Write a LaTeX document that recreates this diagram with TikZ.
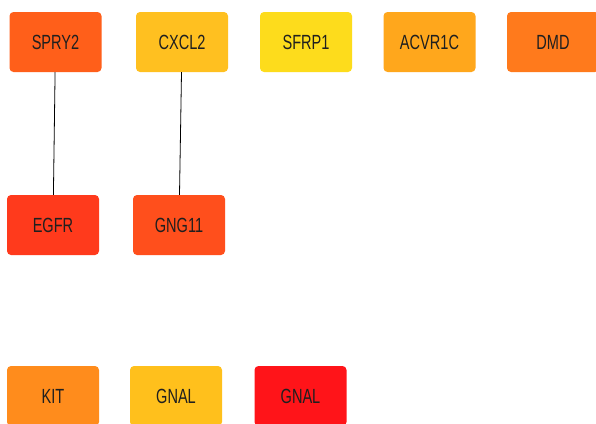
\documentclass[tikz,border=0pt]{standalone}
\usepackage{fontspec}
\setmainfont{Liberation Sans}
\newfontfamily\genefont[FakeStretch=0.71]{Liberation Sans}
\definecolor{cSPRY}{HTML}{FF5F1A}
\definecolor{cCXCL}{HTML}{FFC020}
\definecolor{cSFRP}{HTML}{FDDC1C}
\definecolor{cACVR}{HTML}{FFA71C}
\definecolor{cDMD}{HTML}{FF7A1C}
\definecolor{cEGFR}{HTML}{FF3A1C}
\definecolor{cGNG}{HTML}{FF4F1C}
\definecolor{cKIT}{HTML}{FF8C1C}
\definecolor{cGNAL}{HTML}{FFC01C}
\definecolor{cGNALr}{HTML}{FF1419}
\tikzset{
  gene/.style={rectangle, rounded corners=4pt, minimum width=92pt, minimum height=60pt,
    inner sep=0pt, text=black!88, font=\genefont\fontsize{20.5}{20.5}\selectfont},
  link/.style={draw=black, line width=0.8pt}
}
\begin{document}
\begin{tikzpicture}[x=1pt,y=-1pt]
  \useasboundingbox (0,0) rectangle (596,423);
  \clip (0,0) rectangle (596,423);
  \fill[white] (0,0) rectangle (596,423);
  % top row
  \node[gene, fill=cSPRY] (spry2) at (55.5,42) {SPRY2};
  \node[gene, fill=cCXCL] (cxcl2) at (182,42) {CXCL2};
  \node[gene, fill=cSFRP] (sfrp1) at (306,42) {SFRP1};
  \node[gene, fill=cACVR] (acvr1c) at (429.5,42) {ACVR1C};
  \node[gene, fill=cDMD] (dmd) at (553,42) {DMD};
  % middle row
  \node[gene, fill=cEGFR] (egfr) at (53,225) {EGFR};
  \node[gene, fill=cGNG] (gng11) at (179,225) {GNG11};
  % bottom row
  \node[gene, fill=cKIT] (kit) at (53,396) {KIT};
  \node[gene, fill=cGNAL] (gnal) at (176,396) {GNAL};
  \node[gene, fill=cGNALr] (gnalb) at (300.5,396) {GNAL};
  % interactions
  \draw[link] (spry2) -- (egfr);
  \draw[link] (cxcl2) -- (gng11);
\end{tikzpicture}
\end{document}
